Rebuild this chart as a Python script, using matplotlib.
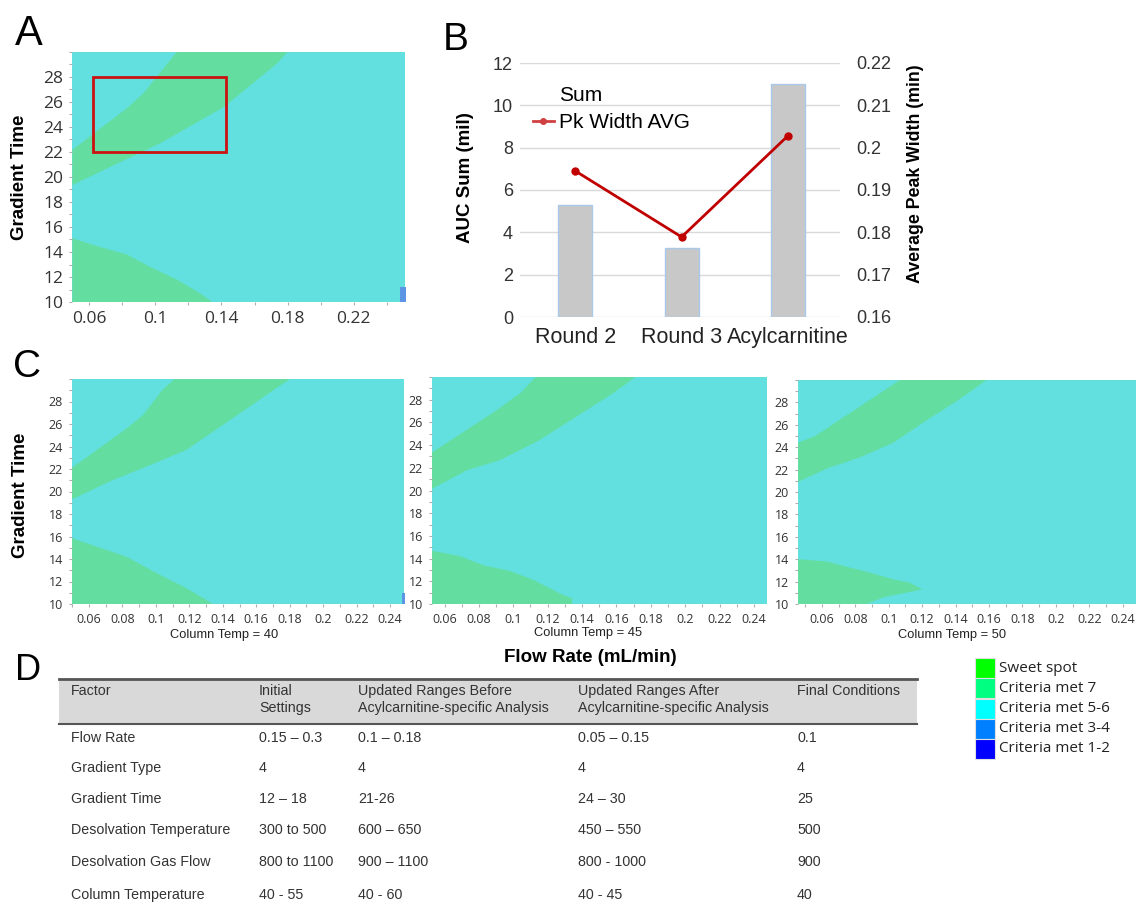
import numpy as np
import matplotlib.pyplot as plt
from matplotlib.patches import Rectangle, Patch
from matplotlib.lines import Line2D
from matplotlib.ticker import FuncFormatter, MultipleLocator

W, H = 1137, 909

# colours of the response surface
cyan = '#62dfdf'
green = '#64dea0'
blue = '#5b95e3'

# ---- panel B data
rounds = ['Round 2', 'Round 3', 'Acylcarnitine']
auc_sum = [5.27, 3.25, 11.0]
pk_width = [0.1945, 0.1789, 0.2028]

# ---- panel A (column temp 40): boundaries as (flow rate, gradient time)
a_up_x = [0.0499, 0.0828, 0.0929, 0.105, 0.113]
a_up_y = [22.16, 25.5, 26.7, 28.7, 30.0]
a_lo_x = [0.0499, 0.0727, 0.103, 0.119, 0.1414, 0.1738, 0.1798]
a_lo_y = [19.36, 20.8, 22.7, 23.9, 25.6, 29.1, 30.0]
a_bot_x = [0.0499, 0.0667, 0.0828, 0.097, 0.113, 0.127, 0.1344]
a_bot_y = [15.1, 14.4, 13.8, 12.8, 11.8, 10.7, 10.0]
a_blue_x = [0.2479, 0.252]
a_blue_y = [11.2, 11.2]
box_flow = [0.0625, 0.1425]
box_time = [22, 28]

# ---- panel C, column temp 40
c40_up_x = [0.0498, 0.0824, 0.0923, 0.1043, 0.1113]
c40_up_y = [22.1, 25.6, 26.8, 29.1, 30.0]
c40_lo_x = [0.0498, 0.0724, 0.1023, 0.1183, 0.1742, 0.180]
c40_lo_y = [19.3, 20.9, 22.7, 23.7, 29.4, 30.0]
c40_bot_x = [0.0498, 0.0665, 0.0824, 0.1023, 0.1183, 0.1342]
c40_bot_y = [15.85, 15.0, 14.2, 12.6, 11.4, 10.0]
c40_blue_x = [0.247, 0.249]
c40_blue_y = [10.95, 10.95]

# ---- column temp 45
c45_up_x = [0.0527, 0.0906, 0.1042, 0.113]
c45_up_y = [23.35, 27.1, 28.6, 30.0]
c45_lo_x = [0.0527, 0.0732, 0.0926, 0.1148, 0.1584, 0.171]
c45_lo_y = [20.15, 21.8, 22.7, 24.4, 28.6, 30.0]
c45_bot_x = [0.0527, 0.0693, 0.0829, 0.0984, 0.112, 0.1274, 0.1342, 0.1342]
c45_bot_y = [14.7, 14.2, 13.4, 12.9, 12.1, 10.9, 10.5, 10.0]

# ---- column temp 50
c50_up_x = [0.0457, 0.056, 0.1067]
c50_up_y = [24.4, 25.0, 30.0]
c50_lo_x = [0.0457, 0.063, 0.0829, 0.1027, 0.1227, 0.1426, 0.1585]
c50_lo_y = [20.9, 22.1, 23.1, 24.4, 26.4, 28.3, 30.0]
c50_bot_x = [0.0457, 0.063, 0.0729, 0.0888, 0.1027, 0.1127, 0.1201, 0.1087, 0.0968, 0.0869]
c50_bot_y = [14.0, 13.8, 13.4, 12.8, 12.2, 11.9, 11.3, 10.96, 10.6, 10.0]

temps = ['Column Temp = 40', 'Column Temp = 45', 'Column Temp = 50']

# ---- panel D table
table_header = ['Factor', 'Initial\nSettings',
                'Updated Ranges Before\nAcylcarnitine-specific Analysis',
                'Updated Ranges After\nAcylcarnitine-specific Analysis',
                'Final Conditions']
table_rows = [
    ['Flow Rate', '0.15 – 0.3', '0.1 – 0.18', '0.05 – 0.15', '0.1'],
    ['Gradient Type', '4', '4', '4', '4'],
    ['Gradient Time', '12 – 18', '21-26', '24 – 30', '25'],
    ['Desolvation Temperature', '300 to 500', '600 – 650', '450 – 550', '500'],
    ['Desolvation Gas Flow', '800 to 1100', '900 – 1100', '800 - 1000', '900'],
    ['Column Temperature', '40 - 55', '40 - 60', '40 - 45', '40'],
]

# ---- colour key
key_labels = ['Sweet spot', 'Criteria met 7', 'Criteria met 5-6',
              'Criteria met 3-4', 'Criteria met 1-2']
key_colors = ['#00ff00', '#00ff80', '#00ffff', '#0080ff', '#0000ff']

fig = plt.figure(figsize=(W / 100, H / 100), dpi=100)


def box(l, t, r, b):
    return [l / W, 1 - b / H, (r - l) / W, (b - t) / H]


def ftext(x, y, s, **kw):
    fig.text(x / W, 1 - y / H, s, **kw)


fmt = FuncFormatter(lambda v, p: f'{v:g}')


def draw_map(ax, up_x, up_y, lo_x, lo_y, bot_x, bot_y, xlim, xticks, size):
    ax.set_facecolor(cyan)
    ax.fill(list(up_x) + lo_x[::-1], list(up_y) + lo_y[::-1], color=green, lw=0)
    ax.fill(list(bot_x) + [bot_x[0]], list(bot_y) + [10], color=green, lw=0)
    ax.set_xlim(*xlim)
    ax.set_ylim(10, 30)
    ax.set_xticks(xticks)
    ax.set_yticks(np.arange(10, 29, 2))
    ax.xaxis.set_minor_locator(MultipleLocator(0.01))
    ax.yaxis.set_minor_locator(MultipleLocator(1))
    ax.xaxis.set_major_formatter(fmt)
    for s in ax.spines.values():
        s.set_visible(False)
    ax.tick_params(which='both', length=2.5, color='#b0b0b0', width=0.8,
                   labelsize=size, labelcolor='#333333', pad=4)
    for lab in ax.get_xticklabels() + ax.get_yticklabels():
        lab.set_family('Open Sans')


# ---- panel A
axa = fig.add_axes(box(72, 52, 405, 302))
draw_map(axa, a_up_x, a_up_y, a_lo_x, a_lo_y, a_bot_x, a_bot_y,
         (0.0497, 0.2509), [0.06, 0.1, 0.14, 0.18, 0.22], 12.5)
axa.xaxis.set_minor_locator(MultipleLocator(0.02))
axa.fill_between(a_blue_x, 10, a_blue_y, color=blue, lw=0)
axa.add_patch(Rectangle((box_flow[0], box_time[0]), box_flow[1] - box_flow[0],
                        box_time[1] - box_time[0], fill=False,
                        edgecolor='#cc1111', lw=2))
ftext(20, 177, 'Gradient Time', rotation=90, ha='center', va='center',
      family='Liberation Sans', weight='bold', size=13.5)

# ---- panel B
axb = fig.add_axes(box(520, 63, 840, 317))
xpos = np.arange(len(rounds))
axb.bar(xpos, auc_sum, width=0.32, color='#c8c8c8', edgecolor='#a9c9ea',
        linewidth=1, zorder=2)
axb.set_xlim(-0.52, 2.49)
axb.set_ylim(0, 12)
axb.set_yticks(range(0, 13, 2))
axb.set_xticks(xpos)
axb.set_xticklabels(rounds)
axb.grid(axis='y', color='#d9d9d9', lw=1)
axb.set_axisbelow(True)
for s in axb.spines.values():
    s.set_visible(False)
axb.tick_params(axis='y', length=0, labelsize=13, pad=5, labelcolor='#333333')
axb.tick_params(axis='x', length=0, labelsize=15.5, pad=7, labelcolor='#222222')
for lab in axb.get_xticklabels() + axb.get_yticklabels():
    lab.set_family('Liberation Sans')

axr = axb.twinx()
axr.plot(xpos, pk_width, color='#c00000', lw=2, marker='o', ms=5)
axr.set_ylim(0.16, 0.22)
axr.set_yticks(np.arange(0.16, 0.2201, 0.01))
axr.yaxis.set_major_formatter(fmt)
for s in axr.spines.values():
    s.set_visible(False)
axr.tick_params(axis='y', length=0, labelsize=13, pad=12, labelcolor='#333333')
for lab in axr.get_yticklabels():
    lab.set_family('Liberation Sans')

handles = [Patch(facecolor='none', edgecolor='none'),
           Line2D([], [], color='#d04040', lw=2, marker='o', ms=4)]
axr.legend(handles, ['Sum', 'Pk Width AVG'], loc='upper left',
           bbox_to_anchor=((533 - 520) / 320, (317 - 86) / 254), frameon=False,
           prop={'family': 'Liberation Sans', 'size': 15}, handlelength=1.0,
           handletextpad=0.25, labelspacing=0.38, borderpad=0, borderaxespad=0)

ftext(466, 178, 'AUC Sum (mil)', rotation=90, ha='center', va='center',
      family='Liberation Sans', weight='bold', size=13.5)
ftext(916, 174, 'Average Peak Width (min)', rotation=90, ha='center', va='center',
      family='Liberation Sans', weight='bold', size=12.8)

# ---- panel C
c_ticks = np.arange(0.06, 0.2401, 0.02)
axc1 = fig.add_axes(box(72, 379, 404, 604))
draw_map(axc1, c40_up_x, c40_up_y, c40_lo_x, c40_lo_y, c40_bot_x, c40_bot_y,
         (0.0498, 0.2484), c_ticks, 9)
axc1.fill_between(c40_blue_x, 10, c40_blue_y, color=blue, lw=0)
axc2 = fig.add_axes(box(432, 377, 767, 604))
draw_map(axc2, c45_up_x, c45_up_y, c45_lo_x, c45_lo_y, c45_bot_x, c45_bot_y,
         (0.0527, 0.2476), c_ticks, 9)
axc3 = fig.add_axes(box(798, 380, 1136, 604))
draw_map(axc3, c50_up_x, c50_up_y, c50_lo_x, c50_lo_y, c50_bot_x, c50_bot_y,
         (0.0457, 0.248), c_ticks, 9)

for xc, yc, t in zip([224, 588, 952], [635, 633, 635], temps):
    ftext(xc, yc, t, ha='center', va='center', family='Liberation Sans',
          size=9.3, color='#222222')
ftext(21, 495, 'Gradient Time', rotation=90, ha='center', va='center',
      family='Liberation Sans', weight='bold', size=13.5)
ftext(590, 657, 'Flow Rate (mL/min)', ha='center', va='center',
      family='Liberation Sans', weight='bold', size=13.5)

# ---- panel letters
for xl, yl, s, fs in [(15, 45, 'A', 30), (443, 50, 'B', 28),
                      (13, 377, 'C', 28), (15, 680, 'D', 26)]:
    ftext(xl, yl, s, ha='left', va='baseline', family='Liberation Sans', size=fs)

# ---- panel D table
fig.add_artist(Rectangle((59 / W, 1 - 724 / H), (917 - 59) / W, 45 / H,
                         transform=fig.transFigure, facecolor='#d9d9d9',
                         edgecolor='none'))
fig.add_artist(Line2D([59 / W, 917 / W], [1 - 679 / H] * 2,
                      transform=fig.transFigure, color='#555555', lw=2))
fig.add_artist(Line2D([59 / W, 917 / W], [1 - 724 / H] * 2,
                      transform=fig.transFigure, color='#555555', lw=1.5))
col_x = [71, 259, 358, 578, 797]
row_y = [738, 768, 799, 830, 862, 895]
for cx, head in zip(col_x, table_header):
    ftext(cx, 684, head, ha='left', va='top', family='Liberation Sans',
          size=10.3, color='#333333', linespacing=1.25)
for ry, row in zip(row_y, table_rows):
    for cx, cell in zip(col_x, row):
        ftext(cx, ry, cell, ha='left', va='center', family='Liberation Sans',
              size=10.3, color='#333333')

# ---- colour key
key_y = [668, 688, 709, 729, 749]
for ky, lab, col in zip(key_y, key_labels, key_colors):
    fig.add_artist(Rectangle((975 / W, 1 - (ky + 10) / H), 20 / W, 20 / H,
                             transform=fig.transFigure, facecolor=col,
                             edgecolor='#e0e0e0', lw=0.8))
    ftext(999, ky, lab, ha='left', va='center', family='Open Sans', size=11,
          color='#222222')

fig.savefig('out.png', dpi=100)
